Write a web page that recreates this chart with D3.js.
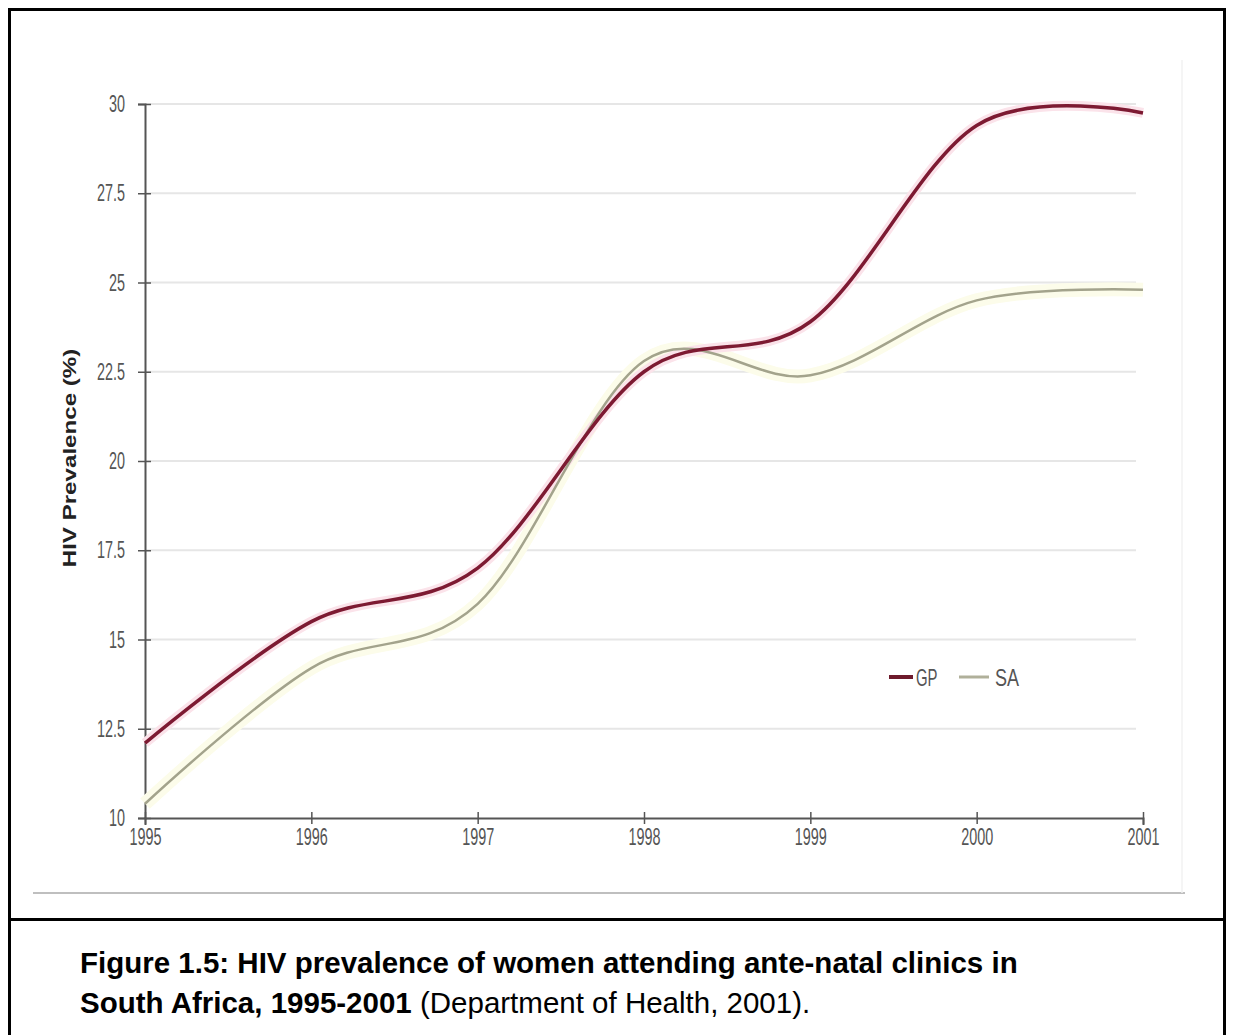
<!DOCTYPE html>
<html>
<head>
<meta charset="utf-8">
<script src="https://cdn.jsdelivr.net/npm/d3@7"></script>
<style>
  body { margin: 0; background: #fff; }
  svg { display: block; }
</style>
</head>
<body>
<div id="chart"></div>
<script>
// Data
var years = [1995, 1996, 1997, 1998, 1999, 2000, 2001];
var gp = [12.1, 15.5, 17.0, 22.5, 23.9, 29.4, 29.75];
var sa = [10.4, 14.2, 16.0, 22.8, 22.4, 24.5, 24.8];
var yTicks = [10, 12.5, 15, 17.5, 20, 22.5, 25, 27.5, 30];
var seriesNames = ["GP", "SA"];

var width = 1233, height = 1035;

var svg = d3.select("#chart").append("svg")
    .attr("width", width)
    .attr("height", height);

var x = d3.scaleLinear().domain([1995, 2001]).range([145, 1143]);
var y = d3.scaleLinear().domain([10, 30]).range([818, 104]);

// squeeze text horizontally (the original uses a narrow face)
function condense(sel, k) {
    sel.each(function () {
        var w = this.getComputedTextLength();
        d3.select(this).attr("textLength", w * k).attr("lengthAdjust", "spacingAndGlyphs");
    });
}

// outer frame + caption divider
svg.append("path")
    .attr("d", "M9.5,1040V9.5H1224.5V1040")
    .attr("fill", "none").attr("stroke", "#000").attr("stroke-width", 3);
svg.append("line")
    .attr("x1", 8).attr("x2", 1226).attr("y1", 919.5).attr("y2", 919.5)
    .attr("stroke", "#000").attr("stroke-width", 3);

// faint frame of the pasted chart image
svg.append("line")
    .attr("x1", 33).attr("x2", 1185).attr("y1", 893).attr("y2", 893)
    .attr("stroke", "#aaa").attr("stroke-width", 1.5);
svg.append("line")
    .attr("x1", 1182).attr("x2", 1182).attr("y1", 60).attr("y2", 893)
    .attr("stroke", "#f2f2f2").attr("stroke-width", 1.5);

// grid lines
svg.append("g")
    .selectAll("line")
    .data(yTicks.slice(1))
    .enter().append("line")
    .attr("x1", x(1995)).attr("x2", 1136)
    .attr("y1", function (d) { return y(d); })
    .attr("y2", function (d) { return y(d); })
    .attr("stroke", "#e6e6e6").attr("stroke-width", 2);

// axes
var labelFont = "'Liberation Sans', Arial, sans-serif";

var yAxis = svg.append("g")
    .attr("transform", "translate(" + x(1995) + ",0)")
    .call(d3.axisLeft(y).tickValues(yTicks).tickSize(7).tickPadding(13)
        .tickFormat(function (d) { return String(d); }));
yAxis.selectAll(".tick line").attr("x2", 6).attr("x1", -7);

var xAxis = svg.append("g")
    .attr("transform", "translate(0," + y(10) + ")")
    .call(d3.axisBottom(x).tickValues(years).tickSize(7).tickPadding(3)
        .tickFormat(d3.format("d")));
xAxis.selectAll(".tick line").attr("y1", -6).attr("y2", 6);

[yAxis, xAxis].forEach(function (a) {
    a.select(".domain").attr("stroke", "#555").attr("stroke-width", 2);
    a.selectAll(".tick line").attr("stroke", "#555").attr("stroke-width", 1.5);
    a.selectAll(".tick text")
        .attr("fill", "#555")
        .style("font-family", labelFont)
        .style("font-size", "24px")
        .call(condense, 0.6);
});
xAxis.selectAll(".tick text").attr("dy", "0.71em");

// y axis title
svg.append("text")
    .attr("transform", "translate(76,458) rotate(-90)")
    .attr("text-anchor", "middle")
    .style("font-family", "'Liberation Sans', Arial, sans-serif")
    .style("font-size", "19px")
    .style("font-weight", "bold")
    .attr("fill", "#222")
    .text("HIV Prevalence (%)")
    .call(condense, 1.27);

// lines
var line = d3.line()
    .x(function (d, i) { return x(years[i]); })
    .y(function (d) { return y(d); })
    .curve(d3.curveCardinal.tension(0));

// soft halos (colour fringe of the original)
svg.append("path").datum(sa).attr("d", line)
    .attr("fill", "none").attr("stroke", "#fcfcea").attr("stroke-width", 14);
svg.append("path").datum(gp).attr("d", line)
    .attr("fill", "none").attr("stroke", "#fbe3ea").attr("stroke-width", 10);

svg.append("path").datum(sa).attr("d", line)
    .attr("fill", "none").attr("stroke", "#a3a38c").attr("stroke-width", 2.5);
svg.append("path").datum(gp).attr("d", line)
    .attr("fill", "none").attr("stroke", "#7d1a32").attr("stroke-width", 3.5);

// legend
var legend = svg.append("g").attr("transform", "translate(889,677)");
legend.append("line").attr("x1", 0).attr("x2", 24).attr("y1", 0).attr("y2", 0)
    .attr("stroke", "#6e1a2c").attr("stroke-width", 4);
legend.append("text").attr("x", 27).attr("y", 9)
    .style("font-family", labelFont).style("font-size", "24px")
    .attr("fill", "#555").text(seriesNames[0]).call(condense, 0.62);
legend.append("line").attr("x1", 70).attr("x2", 100).attr("y1", 0).attr("y2", 0)
    .attr("stroke", "#b0b09a").attr("stroke-width", 3);
legend.append("text").attr("x", 106).attr("y", 9)
    .style("font-family", labelFont).style("font-size", "24px")
    .attr("fill", "#555").text(seriesNames[1]).call(condense, 0.75);

// caption
var cap = svg.append("g")
    .style("font-family", "'Liberation Sans', Arial, sans-serif")
    .style("font-size", "29.5px")
    .attr("fill", "#000");
cap.append("text").attr("x", 80).attr("y", 973)
    .style("font-weight", "bold")
    .text("Figure 1.5: HIV prevalence of women attending ante-natal clinics in");
var t2 = cap.append("text").attr("x", 80).attr("y", 1013);
t2.append("tspan").style("font-weight", "bold").text("South Africa, 1995-2001");
t2.append("tspan").text(" (Department of Health, 2001).");
</script>
</body>
</html>
